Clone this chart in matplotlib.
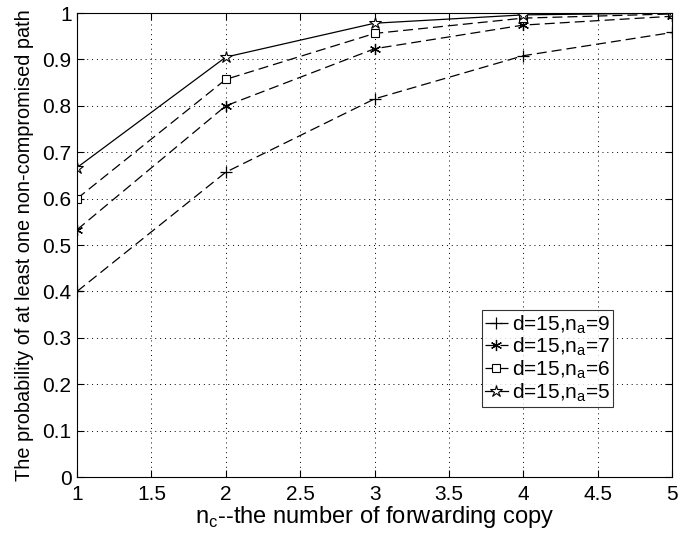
import matplotlib
matplotlib.use("Agg")
import matplotlib.pyplot as plt

plt.rcParams['font.family'] = ['Liberation Sans', 'DejaVu Sans']
plt.rcParams['mathtext.fontset'] = 'custom'
plt.rcParams['mathtext.rm'] = 'Liberation Sans'

nc = [1, 2, 3, 4, 5]
p_na9 = [0.400, 0.657, 0.815, 0.908, 0.958]
p_na7 = [0.533, 0.800, 0.923, 0.974, 0.993]
p_na6 = [0.600, 0.857, 0.956, 0.989, 0.998]
p_na5 = [0.667, 0.905, 0.978, 0.996, 1.000]
labels = ['d=15,n$_\\mathregular{a}$=9', 'd=15,n$_\\mathregular{a}$=7',
          'd=15,n$_\\mathregular{a}$=6', 'd=15,n$_\\mathregular{a}$=5']

fig = plt.figure(figsize=(6.88, 5.33), dpi=100)
ax = fig.add_axes([0.112, 0.105, 0.865, 0.8706])

dash = (0, (8, 4))
ax.plot(nc, p_na9, color='black', lw=0.9, linestyle=dash, marker='+', ms=9, mew=0.9, label=labels[0])
ax.plot(nc, p_na7, color='black', lw=0.9, linestyle=dash, marker=(6, 2, 0), ms=8, mew=0.9, label=labels[1])
ax.plot(nc, p_na6, color='black', lw=0.9, linestyle=dash, marker='s', ms=6, mew=0.8, mfc='white', label=labels[2])
ax.plot(nc, p_na5, color='black', lw=0.9, linestyle='-', marker='*', ms=9, mew=0.8, mfc='white', label=labels[3])

ax.set_xlim(1, 5)
ax.set_ylim(0, 1)
ax.set_xticks([1, 1.5, 2, 2.5, 3, 3.5, 4, 4.5, 5])
ax.set_xticklabels(['1', '1.5', '2', '2.5', '3', '3.5', '4', '4.5', '5'])
ax.set_yticks([i / 10 for i in range(11)])
ax.set_yticklabels(['0', '0.1', '0.2', '0.3', '0.4', '0.5', '0.6', '0.7', '0.8', '0.9', '1'])
ax.tick_params(direction='in', labelsize=15, top=True, right=True, length=5, width=0.8)
ax.tick_params(axis='x', pad=6)
ax.tick_params(axis='y', pad=4)
ax.grid(True, linestyle=(0, (1, 4)), color='black', lw=0.7)
for s in ax.spines.values():
    s.set_linewidth(0.8)

ax.set_xlabel('n$_\\mathregular{c}$--the number of forwarding copy', fontsize=17, labelpad=0)
ax.set_ylabel('The probability of at least one non-compromised path', fontsize=14.3, labelpad=6)

leg = ax.legend(loc='upper right', bbox_to_anchor=(0.901, 0.36), fontsize=15, frameon=True,
                fancybox=False, edgecolor='black', handlelength=1.1, handletextpad=0.2,
                borderpad=0.15, labelspacing=0.0, borderaxespad=0)
leg.get_frame().set_linewidth(0.8)

fig.savefig('out.png', dpi=100)
